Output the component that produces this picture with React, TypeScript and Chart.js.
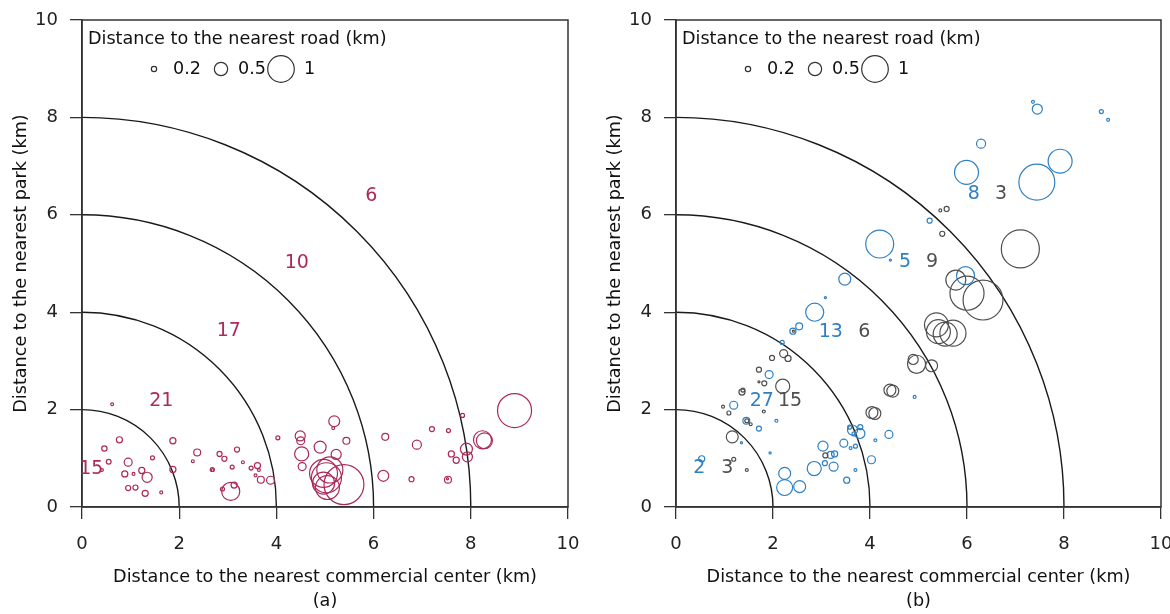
import React, { useEffect, useRef } from "react";
import { Chart, registerables } from "chart.js";

Chart.register(...registerables);

// ---------- Data ----------
// Panel (a): distance to commercial center (x), park (y), road (size), all km
const aX = [0.62, 0.77, 0.46, 0.55, 0.41, 0.95, 0.88, 1.06, 1.23, 1.34, 0.95, 1.1, 1.3, 1.63, 1.45, 1.87, 1.87, 2.37, 2.28, 2.68, 2.69, 2.83, 2.93, 3.19, 3.09, 3.31, 3.06, 2.89, 3.13, 3.48, 3.61, 3.64, 3.57, 3.68, 3.88, 4.03, 4.49, 4.5, 4.52, 4.53, 4.9, 5.19, 5.17, 5.44, 5.23, 4.97, 5.03, 4.97, 5.1, 5.05, 5.39, 6.2, 6.24, 6.89, 6.78, 7.2, 7.54, 7.83, 7.6, 7.7, 7.53, 7.52, 7.91, 7.93, 8.24, 8.28, 8.9];
const aY = [2.11, 1.38, 1.2, 0.93, 0.76, 0.92, 0.68, 0.68, 0.75, 0.61, 0.39, 0.4, 0.28, 0.3, 1.01, 1.36, 0.77, 1.12, 0.94, 0.77, 0.76, 1.09, 0.99, 1.18, 0.82, 0.92, 0.32, 0.37, 0.45, 0.8, 0.85, 0.76, 0.65, 0.56, 0.55, 1.42, 1.46, 1.36, 1.09, 0.83, 1.23, 1.76, 1.62, 1.36, 1.08, 0.69, 0.6, 0.49, 0.76, 0.4, 0.46, 0.64, 1.44, 1.28, 0.57, 1.6, 1.57, 1.88, 1.09, 0.96, 0.56, 0.58, 1.19, 1.03, 1.38, 1.36, 1.98];
const aRoad = [0.11, 0.23, 0.2, 0.18, 0.11, 0.3, 0.23, 0.11, 0.23, 0.38, 0.19, 0.19, 0.23, 0.11, 0.15, 0.23, 0.23, 0.26, 0.11, 0.15, 0.11, 0.19, 0.19, 0.19, 0.15, 0.11, 0.68, 0.15, 0.23, 0.15, 0.23, 0.11, 0.11, 0.26, 0.3, 0.15, 0.38, 0.3, 0.53, 0.3, 0.45, 0.41, 0.11, 0.26, 0.38, 1.05, 1.13, 0.83, 0.98, 0.9, 1.5, 0.41, 0.26, 0.34, 0.19, 0.19, 0.15, 0.15, 0.23, 0.23, 0.26, 0.08, 0.45, 0.38, 0.68, 0.6, 1.28];

// Panel (b), blue group
const bBlueX = [0.53, 1.35, 1.45, 1.71, 1.19, 1.92, 2.07, 1.94, 2.24, 2.24, 2.55, 2.85, 3.03, 3.07, 3.19, 3.27, 3.25, 3.52, 3.46, 3.6, 3.7, 3.7, 4.03, 4.11, 4.39, 3.64, 3.79, 3.67, 3.58, 3.8, 4.92, 2.19, 2.41, 2.54, 2.86, 3.08, 3.48, 4.2, 4.42, 5.23, 5.97, 5.99, 6.29, 7.44, 7.92, 7.36, 7.45, 8.77, 8.91];
const bBlueY = [0.99, 1.32, 1.77, 1.61, 2.09, 2.72, 1.77, 1.11, 0.69, 0.4, 0.42, 0.79, 1.25, 0.9, 1.07, 1.09, 0.83, 0.55, 1.31, 1.21, 1.25, 0.76, 0.97, 1.37, 1.49, 1.58, 1.51, 1.5, 1.64, 1.64, 2.26, 3.38, 3.61, 3.71, 4.0, 4.3, 4.68, 5.4, 5.07, 5.88, 4.75, 6.87, 7.46, 6.67, 7.1, 8.32, 8.17, 8.12, 7.95];
const bBlueRoad = [0.23, 0.08, 0.26, 0.19, 0.3, 0.3, 0.11, 0.08, 0.45, 0.6, 0.45, 0.53, 0.38, 0.19, 0.26, 0.23, 0.34, 0.23, 0.3, 0.11, 0.15, 0.11, 0.3, 0.11, 0.3, 0.38, 0.38, 0.15, 0.15, 0.19, 0.11, 0.15, 0.23, 0.26, 0.68, 0.08, 0.45, 1.05, 0.08, 0.19, 0.68, 0.9, 0.34, 1.35, 0.9, 0.11, 0.38, 0.15, 0.11];

// Panel (b), gray group
const bGrayX = [1.19, 1.46, 1.16, 1.46, 1.54, 0.97, 1.09, 1.36, 1.38, 2.2, 1.82, 1.71, 1.71, 1.98, 2.22, 2.31, 1.81, 3.08, 4.41, 4.47, 4.04, 4.1, 4.96, 4.89, 5.27, 5.37, 5.41, 5.71, 5.55, 5.77, 6.0, 6.33, 7.1, 5.45, 5.58, 5.49, 2.42];
const bGrayY = [0.98, 0.76, 1.44, 1.77, 1.7, 2.06, 1.93, 2.36, 2.4, 2.48, 2.54, 2.82, 2.57, 3.06, 3.15, 3.05, 1.96, 1.06, 2.4, 2.38, 1.94, 1.92, 2.93, 3.03, 2.9, 3.74, 3.6, 3.57, 3.55, 4.66, 4.39, 4.25, 5.3, 6.09, 6.12, 5.61, 3.61];
const bGrayRoad = [0.15, 0.11, 0.45, 0.15, 0.11, 0.11, 0.15, 0.23, 0.15, 0.53, 0.19, 0.19, 0.08, 0.19, 0.3, 0.23, 0.11, 0.19, 0.45, 0.45, 0.45, 0.45, 0.68, 0.38, 0.45, 0.9, 0.9, 0.98, 0.9, 0.75, 1.28, 1.5, 1.43, 0.11, 0.19, 0.19, 0.08];

// Ring counts
const ringRadii = [2, 4, 6, 8];
const aCountLabels = ["15", "21", "17", "10", "6"];
const aCountX = [0.19, 1.63, 3.02, 4.42, 5.95];
const aCountY = [0.78, 2.18, 3.61, 5.01, 6.39];
const bBlueCountLabels = ["2", "27", "13", "5", "8"];
const bBlueCountX = [0.48, 1.77, 3.19, 4.72, 6.14];
const bGrayCountLabels = ["3", "15", "6", "9", "3"];
const bGrayCountX = [1.06, 2.35, 3.88, 5.28, 6.7];
const bCountY = [0.79, 2.18, 3.6, 5.02, 6.43];

const axisTicks = [0, 2, 4, 6, 8, 10];
const legendValues = [0.2, 0.5, 1];
const legendLabels = ["0.2", "0.5", "1"];

const FONT = "'DejaVu Sans', sans-serif";
const PX_PER_KM_ROAD = 13.3;
const CRIMSON = "#ab2a5a";
const BLUE = "#2f80c3";
const GRAY = "#4f4f4f";

type LabelSet = { texts: string[]; xs: number[]; ys: number[]; color: string };

function makeChart(
  canvas: HTMLCanvasElement,
  datasets: { xs: number[]; ys: number[]; road: number[]; color: string }[],
  labels: LabelSet[],
  caption: string,
  rightPad: number
) {
  const ringsPlugin = {
    id: "rings",
    beforeDatasetsDraw(chart: any) {
      const { ctx, scales, chartArea } = chart;
      const x0 = scales.x.getPixelForValue(0);
      const y0 = scales.y.getPixelForValue(0);
      ctx.save();
      ctx.beginPath();
      ctx.rect(chartArea.left, chartArea.top, chartArea.right - chartArea.left, chartArea.bottom - chartArea.top);
      ctx.clip();
      ctx.strokeStyle = "#1a1a1a";
      ctx.lineWidth = 1.4;
      for (const r of ringRadii) {
        const rx = scales.x.getPixelForValue(r) - x0;
        const ry = y0 - scales.y.getPixelForValue(r);
        ctx.beginPath();
        ctx.ellipse(x0, y0, rx, ry, 0, -Math.PI / 2, 0);
        ctx.stroke();
      }
      ctx.restore();
    },
    afterDatasetsDraw(chart: any) {
      const { ctx, scales, chartArea } = chart;
      ctx.save();
      // frame
      ctx.strokeStyle = "#333333";
      ctx.lineWidth = 1.5;
      ctx.strokeRect(chartArea.left, chartArea.top, chartArea.right - chartArea.left, chartArea.bottom - chartArea.top);
      // ring counts
      ctx.font = `19px ${FONT}`;
      ctx.textAlign = "center";
      ctx.textBaseline = "middle";
      for (const set of labels) {
        ctx.fillStyle = set.color;
        set.texts.forEach((t, i) => {
          ctx.fillText(t, scales.x.getPixelForValue(set.xs[i]), scales.y.getPixelForValue(set.ys[i]));
        });
      }
      // legend
      const L = chartArea.left;
      ctx.fillStyle = "#111111";
      ctx.textAlign = "left";
      ctx.font = `17.6px ${FONT}`;
      ctx.fillText("Distance to the nearest road (km)", L + 6, 39);
      const circleX = [72, 139, 199];
      const textX = [91, 156, 222];
      ctx.strokeStyle = "#333333";
      ctx.lineWidth = 1.2;
      legendValues.forEach((v, i) => {
        ctx.beginPath();
        ctx.arc(L + circleX[i], 69, v * PX_PER_KM_ROAD, 0, Math.PI * 2);
        ctx.stroke();
        ctx.fillText(legendLabels[i], L + textX[i], 69);
      });
      ctx.restore();
    },
  };

  return new Chart(canvas, {
    type: "bubble",
    data: {
      datasets: datasets.map((d) => ({
        data: d.xs.map((x, i) => ({ x, y: d.ys[i], r: d.road[i] * PX_PER_KM_ROAD })),
        borderColor: d.color,
        backgroundColor: "rgba(0,0,0,0)",
        borderWidth: 1.2,
        clip: false as any,
      })),
    },
    plugins: [ringsPlugin],
    options: {
      animation: false,
      responsive: false,
      events: [],
      layout: { autoPadding: false, padding: { top: 20, right: rightPad, left: 0, bottom: 0 } },
      plugins: { legend: { display: false }, tooltip: { enabled: false } },
      scales: {
        x: {
          type: "linear",
          min: 0,
          max: 10,
          afterBuildTicks: (s: any) => {
            s.ticks = axisTicks.map((v) => ({ value: v }));
          },
          afterFit: (s: any) => {
            s.height = 107;
            s.paddingLeft = 0;
            s.paddingRight = 0;
          },
          ticks: { color: "#222", font: { family: FONT, size: 18 }, padding: 15 },
          grid: { drawOnChartArea: false, drawTicks: true, tickLength: 12, color: "#333", lineWidth: 1.3 },
          border: { display: true, color: "#333", width: 1.5 },
          title: {
            display: true,
            text: ["Distance to the nearest commercial center (km)", caption],
            color: "#111",
            font: { family: FONT, size: 17.6, lineHeight: 1.36 },
            padding: { top: 0, bottom: 1 },
          },
        },
        y: {
          type: "linear",
          min: 0,
          max: 10,
          afterBuildTicks: (s: any) => {
            s.ticks = axisTicks.map((v) => ({ value: v }));
          },
          afterFit: (s: any) => {
            s.width = 82;
            s.paddingTop = 0;
            s.paddingBottom = 0;
          },
          ticks: { color: "#222", font: { family: FONT, size: 18 }, padding: 12 },
          grid: { drawOnChartArea: false, drawTicks: true, tickLength: 12, color: "#333", lineWidth: 1.3 },
          border: { display: true, color: "#333", width: 1.5 },
          title: {
            display: true,
            text: "Distance to the nearest park (km)",
            color: "#111",
            font: { family: FONT, size: 17.6, lineHeight: 1.2 },
            padding: { top: 11, bottom: 0 },
          },
        },
      },
    } as any,
  });
}

export default function App() {
  const leftRef = useRef<HTMLCanvasElement>(null);
  const rightRef = useRef<HTMLCanvasElement>(null);

  useEffect(() => {
    const c1 = makeChart(
      leftRef.current!,
      [{ xs: aX, ys: aY, road: aRoad, color: CRIMSON }],
      [{ texts: aCountLabels, xs: aCountX, ys: aCountY, color: CRIMSON }],
      "(a)",
      17
    );
    const c2 = makeChart(
      rightRef.current!,
      [
        { xs: bGrayX, ys: bGrayY, road: bGrayRoad, color: GRAY },
        { xs: bBlueX, ys: bBlueY, road: bBlueRoad, color: BLUE },
      ],
      [
        { texts: bBlueCountLabels, xs: bBlueCountX, ys: bCountY, color: BLUE },
        { texts: bGrayCountLabels, xs: bGrayCountX, ys: bCountY, color: GRAY },
      ],
      "(b)",
      9
    );
    return () => {
      c1.destroy();
      c2.destroy();
    };
  }, []);

  return (
    <div style={{ position: "fixed", left: 0, top: 0, width: 1170, height: 614, overflow: "hidden", background: "#fff" }}>
      <canvas ref={leftRef} width={585} height={614} style={{ position: "absolute", left: 0, top: 0 }} />
      <canvas ref={rightRef} width={576} height={614} style={{ position: "absolute", left: 594, top: 0 }} />
    </div>
  );
}
